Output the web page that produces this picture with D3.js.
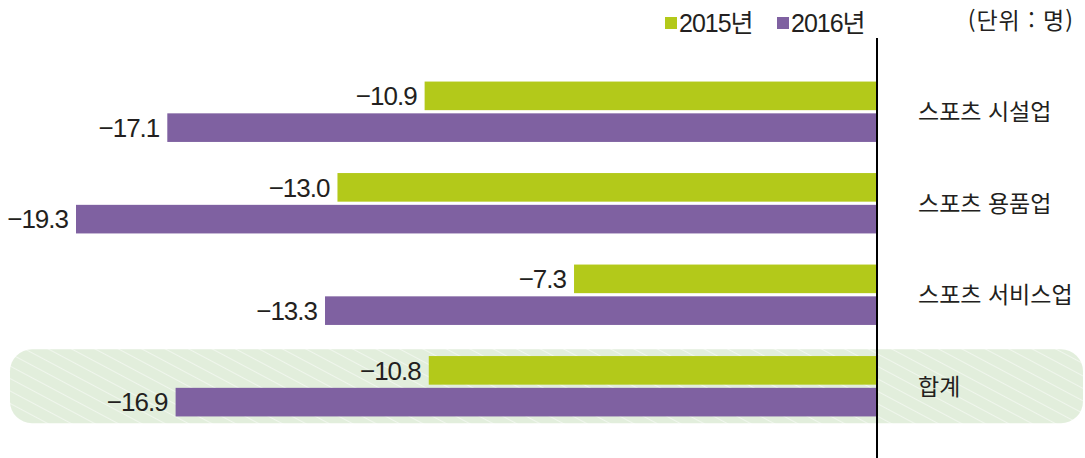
<html lang="ko">
<head>
<style>
	body { margin: 0; background: #fff; }
	text { font-family: "Noto Sans CJK KR", "Noto Sans", sans-serif; fill: #231f20; }
	.num { font-family: "Liberation Sans Narrow", "Liberation Sans", "Noto Sans CJK KR", sans-serif; }
</style>
</head>
<body>
<svg width="1085" height="458"></svg>
<script src="https://d3js.org/d3.v7.min.js"></script>
<script>
	var categories = ["스포츠 시설업", "스포츠 용품업", "스포츠 서비스업", "합계"];
	var series = ["2015년", "2016년"];
	var values2015 = [-10.9, -13.0, -7.3, -10.8];
	var values2016 = [-17.1, -19.3, -13.3, -16.9];
	var colors = ["#b3c91a", "#7f61a1"];

	var svg = d3.select("svg");

	// pattern for the total row
	var defs = svg.append("defs");
	var pat = defs.append("pattern")
		.attr("id", "hatch")
		.attr("patternUnits", "userSpaceOnUse")
		.attr("width", 11).attr("height", 11)
		.attr("patternTransform", "rotate(-62)");
	pat.append("rect").attr("width", 11).attr("height", 11).attr("fill", "#e2eedc");
	pat.append("line").attr("x1", 0).attr("y1", 0).attr("x2", 0).attr("y2", 11)
		.attr("stroke", "#fff").attr("stroke-width", 1);

	var x = d3.scaleLinear().domain([-19.3, 0]).range([76, 877]);
	var y = d3.scaleBand().domain(categories).range([66, 432]).paddingInner(0.34).paddingOuter(0.17);
	var y1 = d3.scaleBand().domain(series).range([0, y.bandwidth()]).paddingInner(0.1);

	// highlight box behind the total
	svg.append("rect")
		.attr("x", 10).attr("y", y("합계") + y.bandwidth() / 2 - 37)
		.attr("width", 1073).attr("height", 74)
		.attr("rx", 22).attr("ry", 22)
		.attr("fill", "url(#hatch)");

	var rows = categories.map(function(c, i) {
		return { cat: c, vals: [values2015[i], values2016[i]] };
	});

	var g = svg.selectAll(".grp").data(rows).enter().append("g")
		.attr("transform", function(d) { return "translate(0," + y(d.cat) + ")"; });

	g.selectAll("rect.bar")
		.data(function(d) { return d.vals.map(function(v, j) { return { s: series[j], v: v, j: j }; }); })
		.enter().append("rect")
		.attr("class", "bar")
		.attr("x", function(d) { return x(d.v); })
		.attr("y", function(d) { return y1(d.s); })
		.attr("width", function(d) { return x(0) - x(d.v); })
		.attr("height", y1.bandwidth())
		.attr("fill", function(d) { return colors[d.j]; });

	g.selectAll("text.val")
		.data(function(d) { return d.vals.map(function(v, j) { return { s: series[j], v: v }; }); })
		.enter().append("text")
		.attr("class", "val num")
		.attr("x", function(d) { return x(d.v) - 8; })
		.attr("y", function(d) { return y1(d.s) + y1.bandwidth() / 2; })
		.attr("dy", "0.36em")
		.attr("text-anchor", "end")
		.attr("font-size", "26px")
		.attr("letter-spacing", "-1px")
		.text(function(d) { return "\u2212" + Math.abs(d.v).toFixed(1); });

	g.append("text")
		.attr("x", 918)
		.attr("y", y.bandwidth() / 2)
		.attr("dy", "0.36em")
		.attr("font-size", "23px")
		.text(function(d) { return d.cat; });

	// zero axis
	svg.append("line")
		.attr("x1", x(0)).attr("x2", x(0))
		.attr("y1", 38).attr("y2", 458)
		.attr("stroke", "#000").attr("stroke-width", 2);

	// legend
	var legX = [665, 777];
	series.forEach(function(s, i) {
		svg.append("rect").attr("x", legX[i]).attr("y", 17).attr("width", 12).attr("height", 12).attr("fill", colors[i]);
		svg.append("text").attr("class", "num").attr("x", legX[i] + 14).attr("y", 23).attr("dy", "0.36em")
			.attr("font-size", "25px").attr("letter-spacing", "-1px").text(s);
	});

	svg.append("text").attr("x", 1074).attr("y", 21).attr("dy", "0.36em")
		.attr("text-anchor", "end").attr("font-size", "23px").attr("letter-spacing", "1px")
		.text("(단위 : 명)");
</script>
</body>
</html>
